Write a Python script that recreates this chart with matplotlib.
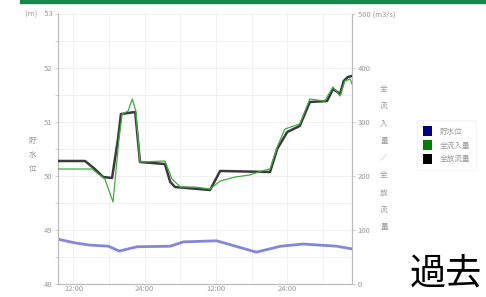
import matplotlib
matplotlib.use("Agg")
import matplotlib.pyplot as plt
from matplotlib.patches import Rectangle, Patch

plt.rcParams['font.family'] = ['Noto Sans CJK JP', 'DejaVu Sans']

# ---- data (hours since 00:00 of day 1) ----
level_t = [9.4, 12.3, 14.8, 17.9, 19.7, 22.7, 28.3, 30.5, 36.1, 42.8, 46.9, 50.7, 56.3, 58.9]
level_v = [48.83, 48.76, 48.72, 48.70, 48.61, 48.69, 48.70, 48.78, 48.80, 48.59, 48.70, 48.74, 48.70, 48.65]

inflow_t = [9.4, 13.95, 15.1, 17.3, 18.66, 19.67, 20.2, 21.2, 21.9, 22.5, 23.2, 27.4, 28.6, 30.0, 32.5,
            35.0, 36.7, 39.2, 41.7, 43.7, 45.1, 46.3, 47.6, 50.1, 51.8, 54.3, 55.7, 56.9, 57.7, 58.6, 58.9]
inflow_v = [213.0, 213.0, 213.0, 194.4, 151.9, 268.5, 314.8, 320.4, 342.6, 320.4, 225.9, 227.8, 194.4, 179.6, 179.6,
            175.9, 190.7, 198.1, 201.9, 209.3, 213.0, 253.7, 287.0, 296.3, 342.6, 338.9, 364.8, 348.1, 375.9, 379.6, 370.4]

outflow_t = [9.4, 13.95, 15.6, 17.0, 18.5, 19.5, 20.0, 22.4, 23.2, 27.4, 28.3, 29.1, 35.0, 36.7,
             45.1, 46.3, 48.0, 50.1, 51.8, 54.7, 55.7, 56.9, 57.5, 58.2, 58.9]
outflow_v = [227.8, 227.8, 213.0, 198.1, 196.3, 268.5, 314.8, 318.5, 225.9, 222.2, 188.9, 179.6, 174.1, 209.3,
             207.4, 250.0, 281.5, 292.6, 337.0, 338.9, 361.1, 351.9, 375.9, 383.3, 385.2]

x_ticks = [12, 24, 36, 48]
x_tick_labels = ["12:00", "24:00", "12:00", "24:00"]
left_ticks = [48, 49, 50, 51, 52, 53]
left_tick_labels = ["48", "49", "50", "51", "52", "(m)    53"]
right_ticks = [0, 100, 200, 300, 400, 500]
right_tick_labels = ["0", "100", "200", "300", "400", "500 (m3/s)"]
legend_labels = ["貯水位", "全流入量", "全放流量"]

# ---- figure ----
fig = plt.figure(figsize=(4.86, 2.97), dpi=100)
fig.patches.append(Rectangle((20/486, 1-3/297), 466/486, 3/297, transform=fig.transFigure,
                             color="#15884a", zorder=5))

ax = fig.add_axes([58/486, 13/297, 294/486, 270/297])
ax2 = ax.twinx()

tick_col = "#999999"
fs = 5.5

ax.set_xlim(9.4, 58.9)
ax.set_ylim(48, 53)
ax2.set_ylim(0, 500)

ax.set_xticks(x_ticks)
ax.set_xticklabels(x_tick_labels, fontsize=fs, color=tick_col)
ax.set_xticks([6*k for k in range(2, 10)], minor=True)
ax.set_yticks(left_ticks)
ax.set_yticklabels(left_tick_labels, fontsize=fs, color=tick_col)
ax.set_yticks([48.5 + k for k in range(5)], minor=True)
ax2.set_yticks(right_ticks)
ax2.set_yticklabels(right_tick_labels, fontsize=fs, color=tick_col, ha="left")

ax.grid(True, which="both", color="#eeeeee", linewidth=0.6)
ax.set_axisbelow(True)

for a in (ax, ax2):
    a.spines['top'].set_visible(False)
    for s in ('left', 'right', 'bottom'):
        a.spines[s].set_color("#bbbbbb")
        a.spines[s].set_linewidth(0.8)
    a.tick_params(which="both", length=2, width=0.5, color="#bbbbbb", pad=2)
ax.tick_params(axis='x', which='both', length=0, pad=1)

ax.plot(level_t, level_v, color="#8585da", linewidth=2.0, zorder=3)
ax2.plot(outflow_t, outflow_v, color="#3a3a3a", linewidth=1.8, zorder=3)
ax2.plot(inflow_t, inflow_v, color="#44aa44", linewidth=0.9, zorder=4)

# axis titles (vertical stacked characters)
fig.text(33/486, 1-155/297, "貯\n水\n位", fontsize=fs, color=tick_col, ha="center", va="center",
         linespacing=2.0)
fig.text(384/486, 1-158/297, "全\n流\n入\n量\n／\n全\n放\n流\n量", fontsize=fs, color=tick_col,
         ha="center", va="center", linespacing=2.55)

handles = [Patch(facecolor="#000080", edgecolor="none"),
           Patch(facecolor="#008000", edgecolor="none"),
           Patch(facecolor="#000000", edgecolor="none")]
leg = fig.legend(handles, legend_labels, loc="center left", bbox_to_anchor=(413/486, 1-145/297),
                 fontsize=fs, frameon=True, handlelength=1.2, handleheight=1.6, labelspacing=0.5,
                 handletextpad=1.0, borderpad=0.8, labelcolor=tick_col)
leg.get_frame().set_edgecolor("#f0f0f0")
leg.get_frame().set_linewidth(0.6)

fig.text(410/486, 1-292/297, "過去", fontsize=26, color="black", ha="left", va="bottom")

fig.savefig("out.png", dpi=100)
